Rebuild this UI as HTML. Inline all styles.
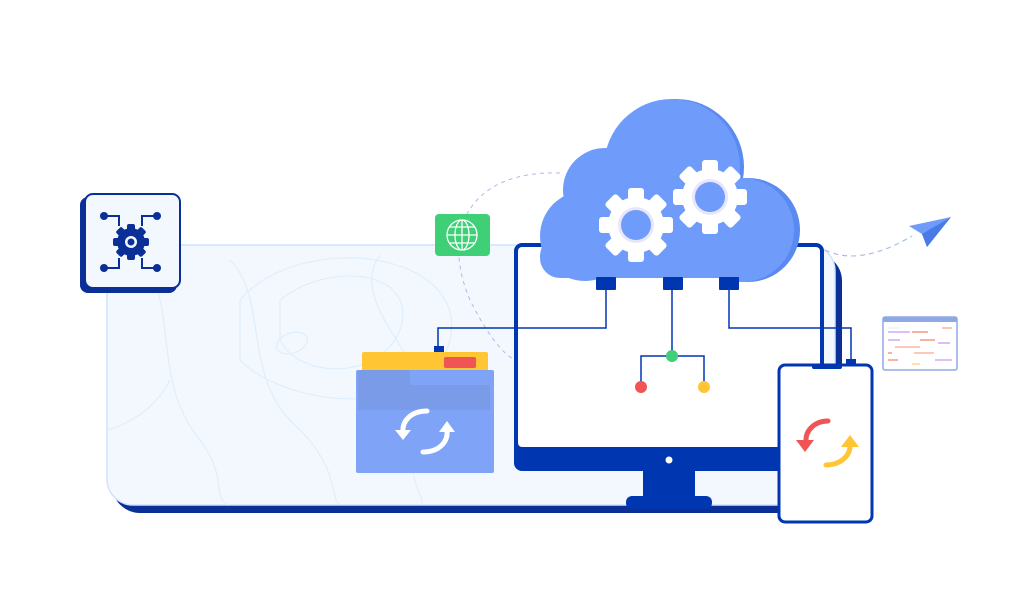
<!DOCTYPE html>
<html><head><meta charset="utf-8"><style>
html,body{margin:0;padding:0;background:#fff;}
svg{display:block}
</style></head><body>
<svg width="1020" height="614" viewBox="0 0 1020 614" xmlns="http://www.w3.org/2000/svg">
<defs>
<g id="gear">
<circle r="28" fill="#fff"/>
<g fill="#fff">
<rect x="-8" y="-37" width="16" height="14" rx="3"/>
<rect x="-8" y="-37" width="16" height="14" rx="3" transform="rotate(45)"/>
<rect x="-8" y="-37" width="16" height="14" rx="3" transform="rotate(90)"/>
<rect x="-8" y="-37" width="16" height="14" rx="3" transform="rotate(135)"/>
<rect x="-8" y="-37" width="16" height="14" rx="3" transform="rotate(180)"/>
<rect x="-8" y="-37" width="16" height="14" rx="3" transform="rotate(225)"/>
<rect x="-8" y="-37" width="16" height="14" rx="3" transform="rotate(270)"/>
<rect x="-8" y="-37" width="16" height="14" rx="3" transform="rotate(315)"/>
</g>
<circle r="18" fill="#e8e6fb"/>
<circle r="15" fill="#6f9bfb"/>
</g>
</defs>

<!-- background panel -->
<rect x="112" y="253" width="730" height="260" rx="28" fill="#0a2f96"/>
<rect x="107" y="245" width="728" height="260" rx="26" fill="#f3f8fe" stroke="#cfe3fb" stroke-width="1.5"/>
<g fill="none" stroke="#dfeefc" stroke-width="1.2">
<path d="M140 260 C180 300 150 380 200 440 C230 480 210 500 230 505"/>
<path d="M230 260 C270 300 240 380 300 430 C340 470 330 500 340 505"/>
<path d="M280 300 C330 260 420 270 400 330 C380 380 300 380 280 340 Z"/>
<path d="M240 300 C300 230 470 250 450 340 C430 420 290 410 240 360 Z"/>
<path d="M380 255 C340 310 460 380 420 440 C400 480 430 500 420 505"/>
<path d="M108 430 C140 420 160 400 170 380"/>
<ellipse cx="292" cy="343" rx="16" ry="10" transform="rotate(-20 292 343)"/>
</g>

<!-- dashed arcs -->
<path d="M560 173 C470 170 440 230 470 300 C490 340 505 355 515 360" fill="none" stroke="#a9bde8" stroke-width="1" stroke-dasharray="4 4"/>
<path d="M825 250 C850 262 880 255 912 236" fill="none" stroke="#a9bde8" stroke-width="1.2" stroke-dasharray="5 4"/>

<!-- gear icon box -->
<rect x="80" y="197" width="97" height="96" rx="8" fill="#0a2f96"/>
<rect x="85" y="194" width="95" height="94" rx="8" fill="#f3f8fe" stroke="#0a2f96" stroke-width="2"/>
<g stroke="#0a2f96" stroke-width="2" fill="none">
<path d="M104 216 H119 V226"/><path d="M157 216 H142 V226"/>
<path d="M104 268 H119 V258"/><path d="M157 268 H142 V258"/>
</g>
<g fill="#0a2f96"><circle cx="104" cy="216" r="4"/><circle cx="157" cy="216" r="4"/><circle cx="104" cy="268" r="4"/><circle cx="157" cy="268" r="4"/>
<circle cx="131" cy="242" r="14"/>
<rect x="127" y="224" width="8" height="36" rx="2"/><rect x="113" y="238" width="36" height="8" rx="2"/>
<rect x="127" y="224" width="8" height="36" rx="2" transform="rotate(45 131 242)"/><rect x="127" y="224" width="8" height="36" rx="2" transform="rotate(-45 131 242)"/></g>
<circle cx="131" cy="242" r="6" fill="#f3f8fe"/><circle cx="131" cy="242" r="3.5" fill="#0a2f96"/>

<!-- globe -->
<rect x="435" y="214" width="55" height="42" rx="4" fill="#3ecf77"/>
<g fill="none" stroke="#fff" stroke-width="1.3">
<circle cx="462" cy="235" r="15"/><ellipse cx="462" cy="235" rx="7" ry="15"/>
<line x1="462" y1="220" x2="462" y2="250"/><line x1="447" y1="235" x2="477" y2="235"/>
<line x1="450" y1="227" x2="474" y2="227"/><line x1="450" y1="243" x2="474" y2="243"/>
</g>

<!-- monitor -->
<rect x="514" y="243" width="310" height="228" rx="8" fill="#0036b0"/>
<rect x="518" y="247" width="302" height="200" rx="4" fill="#fff"/>
<circle cx="669" cy="460" r="3.5" fill="#fff"/>
<rect x="643" y="470" width="52" height="28" fill="#0036b0"/>
<rect x="626" y="496" width="86" height="13" rx="6" fill="#0036b0"/>

<!-- cloud -->
<g fill="#5a89f0">
<circle cx="676" cy="167" r="68"/><circle cx="748" cy="230" r="52"/>
</g>
<g fill="#6f9bfb">
<circle cx="672" cy="167" r="68"/><circle cx="605" cy="190" r="42"/><circle cx="585" cy="236" r="45"/><circle cx="742" cy="230" r="52"/>
<rect x="585" y="220" width="160" height="58"/>
<rect x="540" y="236" width="60" height="42" rx="20"/>
</g>
<use href="#gear" x="636" y="225"/>
<use href="#gear" x="710" y="197"/>

<!-- connectors -->
<g fill="#0036b0"><rect x="596" y="277" width="20" height="13" rx="1"/><rect x="663" y="277" width="20" height="13" rx="1"/><rect x="719" y="277" width="20" height="13" rx="1"/></g>
<g fill="none" stroke="#0036b0" stroke-width="1.5">
<path d="M606 290 V328 H438 V347"/>
<path d="M672 290 V356"/>
<path d="M641 387 V356 H704 V387"/>
<path d="M729 290 V328 H851 V360"/>
</g>
<rect x="434" y="346" width="10" height="6" fill="#0036b0"/>
<rect x="846" y="359" width="10" height="7" fill="#0036b0"/>
<circle cx="672" cy="356" r="6" fill="#3ecf77"/>
<circle cx="641" cy="387" r="6" fill="#f05454"/>
<circle cx="704" cy="387" r="6" fill="#ffc532"/>

<!-- folder -->
<rect x="362" y="352" width="126" height="36" rx="2" fill="#ffc532"/>
<rect x="444" y="357" width="32" height="11" rx="2" fill="#f05454"/>
<rect x="488" y="371" width="6" height="14" fill="#0a45d0"/>
<rect x="356" y="370" width="138" height="103" rx="2" fill="#7ea3f7"/>
<path d="M358 370 H410 V385 H490 V410 H358 Z" fill="#7a9ce8"/>
<g fill="none" stroke="#fff" stroke-width="5" stroke-linecap="round">
<path d="M427 411 C410 411 402 422 403 432"/>
<path d="M423 452 C440 452 448 441 447 431"/>
</g>
<path d="M395 430 L411 430 L403 440 Z" fill="#fff"/>
<path d="M439 432 L455 432 L447 421 Z" fill="#fff"/>

<!-- phone -->
<rect x="779" y="365" width="93" height="157" rx="6" fill="#fff" stroke="#0036b0" stroke-width="3"/>
<rect x="812" y="364" width="30" height="5" rx="2" fill="#0036b0"/>
<g fill="none" stroke-width="5" stroke-linecap="round">
<path d="M828 421 C815 421 806 430 806 440" stroke="#f05454"/>
<path d="M826 465 C840 465 850 456 850 446" stroke="#ffc532"/>
</g>
<path d="M796 440 L814 440 L805 452 Z" fill="#f05454"/>
<path d="M841 447 L859 447 L850 435 Z" fill="#ffc532"/>

<!-- paper plane -->
<path d="M909 226 L951 217 L927 247 L922 234 Z" fill="#6f9bfb"/>
<path d="M922 234 L951 217 L927 247 Z" fill="#4a7ae8"/>

<!-- code window -->
<rect x="883" y="317" width="74" height="53" rx="2" fill="#fff" stroke="#8fa8e6" stroke-width="1.5"/>
<rect x="883" y="317" width="74" height="5" fill="#8fa8e6"/>
<g stroke-width="1.3">
<line x1="888" y1="328" x2="900" y2="328" stroke="#e8eefa"/><line x1="942" y1="328" x2="952" y2="328" stroke="#f7a98f"/>
<line x1="888" y1="332" x2="910" y2="332" stroke="#c79af0"/><line x1="912" y1="332" x2="928" y2="332" stroke="#f58a6b"/>
<line x1="888" y1="340" x2="900" y2="340" stroke="#c79af0"/><line x1="920" y1="340" x2="935" y2="340" stroke="#f58a6b"/>
<line x1="938" y1="343" x2="950" y2="343" stroke="#c79af0"/>
<line x1="895" y1="347" x2="920" y2="347" stroke="#f7a98f"/>
<line x1="888" y1="353" x2="892" y2="353" stroke="#f58a6b"/><line x1="914" y1="353" x2="934" y2="353" stroke="#f7a98f"/>
<line x1="888" y1="360" x2="898" y2="360" stroke="#f58a6b"/><line x1="935" y1="360" x2="952" y2="360" stroke="#c79af0"/>
<line x1="912" y1="364" x2="920" y2="364" stroke="#ffd36b"/>
</g>
</svg>
</body></html>
